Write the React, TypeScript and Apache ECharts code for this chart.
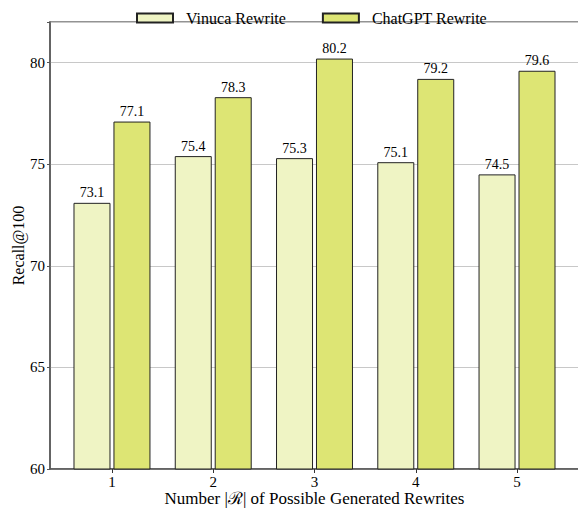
import React, { useEffect, useRef } from "react";
import * as echarts from "echarts";

const categories = [1, 2, 3, 4, 5];
const vinucaValues = [73.1, 75.4, 75.3, 75.1, 74.5];
const chatgptValues = [77.1, 78.3, 80.2, 79.2, 79.6];
const yTicks = [60, 65, 70, 75, 80];

const FONT = "Liberation Serif";

export default function App() {
  const ref = useRef<HTMLDivElement>(null);
  useEffect(() => {
    if (!ref.current) return;
    const chart = echarts.init(ref.current, null, { renderer: "svg" });
    const labelCfg = {
      show: true,
      position: "top" as const,
      distance: 3,
      color: "#000",
      fontFamily: FONT,
      fontSize: 14,
      formatter: (p: any) => Number(p.value[1]).toFixed(1),
    };
    chart.setOption({
      animation: false,
      textStyle: { fontFamily: FONT },
      legend: {
        top: 5,
        left: 131,
        itemWidth: 36,
        itemHeight: 9,
        itemGap: 36,
        icon: "rect",
        textStyle: { fontFamily: FONT, fontSize: 16, color: "#000", padding: [0, 0, 0, 8] },
        data: ["Vinuca Rewrite", "ChatGPT Rewrite"],
      },
      grid: {
        left: 50,
        top: 22,
        width: 529,
        height: 447,
        outerBoundsMode: "none",
        containLabel: false,
        show: true,
        borderColor: "#707070",
        borderWidth: 1.5,
        backgroundColor: "transparent",
      },
      xAxis: {
        type: "value",
        min: 0.388,
        max: 5.612,
        name: "Number |\u211B| of Possible Generated Rewrites",
        nameLocation: "middle",
        nameGap: 21,
        nameMoveOverlap: false,
        nameTextStyle: { fontFamily: FONT, fontSize: 17, color: "#000" },
        axisLine: { show: true, lineStyle: { color: "#555", width: 1.5 } },
        axisTick: { show: true, length: 4, lineStyle: { color: "#333" }, customValues: categories },
        axisLabel: { color: "#000", fontSize: 15, fontFamily: FONT, margin: 5, customValues: categories },
        splitLine: { show: false },
      },
      yAxis: {
        type: "value",
        min: 60,
        max: 82,
        interval: 5,
        name: "Recall@100",
        nameLocation: "middle",
        nameGap: 24,
        nameMoveOverlap: false,
        nameTextStyle: { fontFamily: FONT, fontSize: 16, color: "#000" },
        axisLine: { show: true, lineStyle: { color: "#555", width: 1.5 } },
        axisTick: { show: true, length: 3, lineStyle: { color: "#555" } },
        axisLabel: {
          color: "#000",
          fontSize: 15,
          fontFamily: FONT,
          margin: 5,
          formatter: (v: number) => (yTicks.includes(v) ? String(v) : ""),
        },
        splitLine: { show: true, lineStyle: { color: "#c8c8c8", width: 1 } },
      },
      series: [
        {
          name: "Vinuca Rewrite",
          type: "bar",
          barWidth: 37,
          barGap: "8%",
          data: categories.map((c, i) => [c, vinucaValues[i]]),
          itemStyle: { color: "#eff4c4", borderColor: "#222", borderWidth: 1 },
          label: labelCfg,
        },
        {
          name: "ChatGPT Rewrite",
          type: "bar",
          barWidth: 37,
          barGap: "8%",
          data: categories.map((c, i) => [c, chatgptValues[i]]),
          itemStyle: { color: "#dde574", borderColor: "#222", borderWidth: 1 },
          label: labelCfg,
        },
      ],
    });
    return () => chart.dispose();
  }, []);
  return (
    <div
      ref={ref}
      style={{ position: "fixed", left: 0, top: 0, width: 578, height: 509, background: "#fff" }}
    />
  );
}
